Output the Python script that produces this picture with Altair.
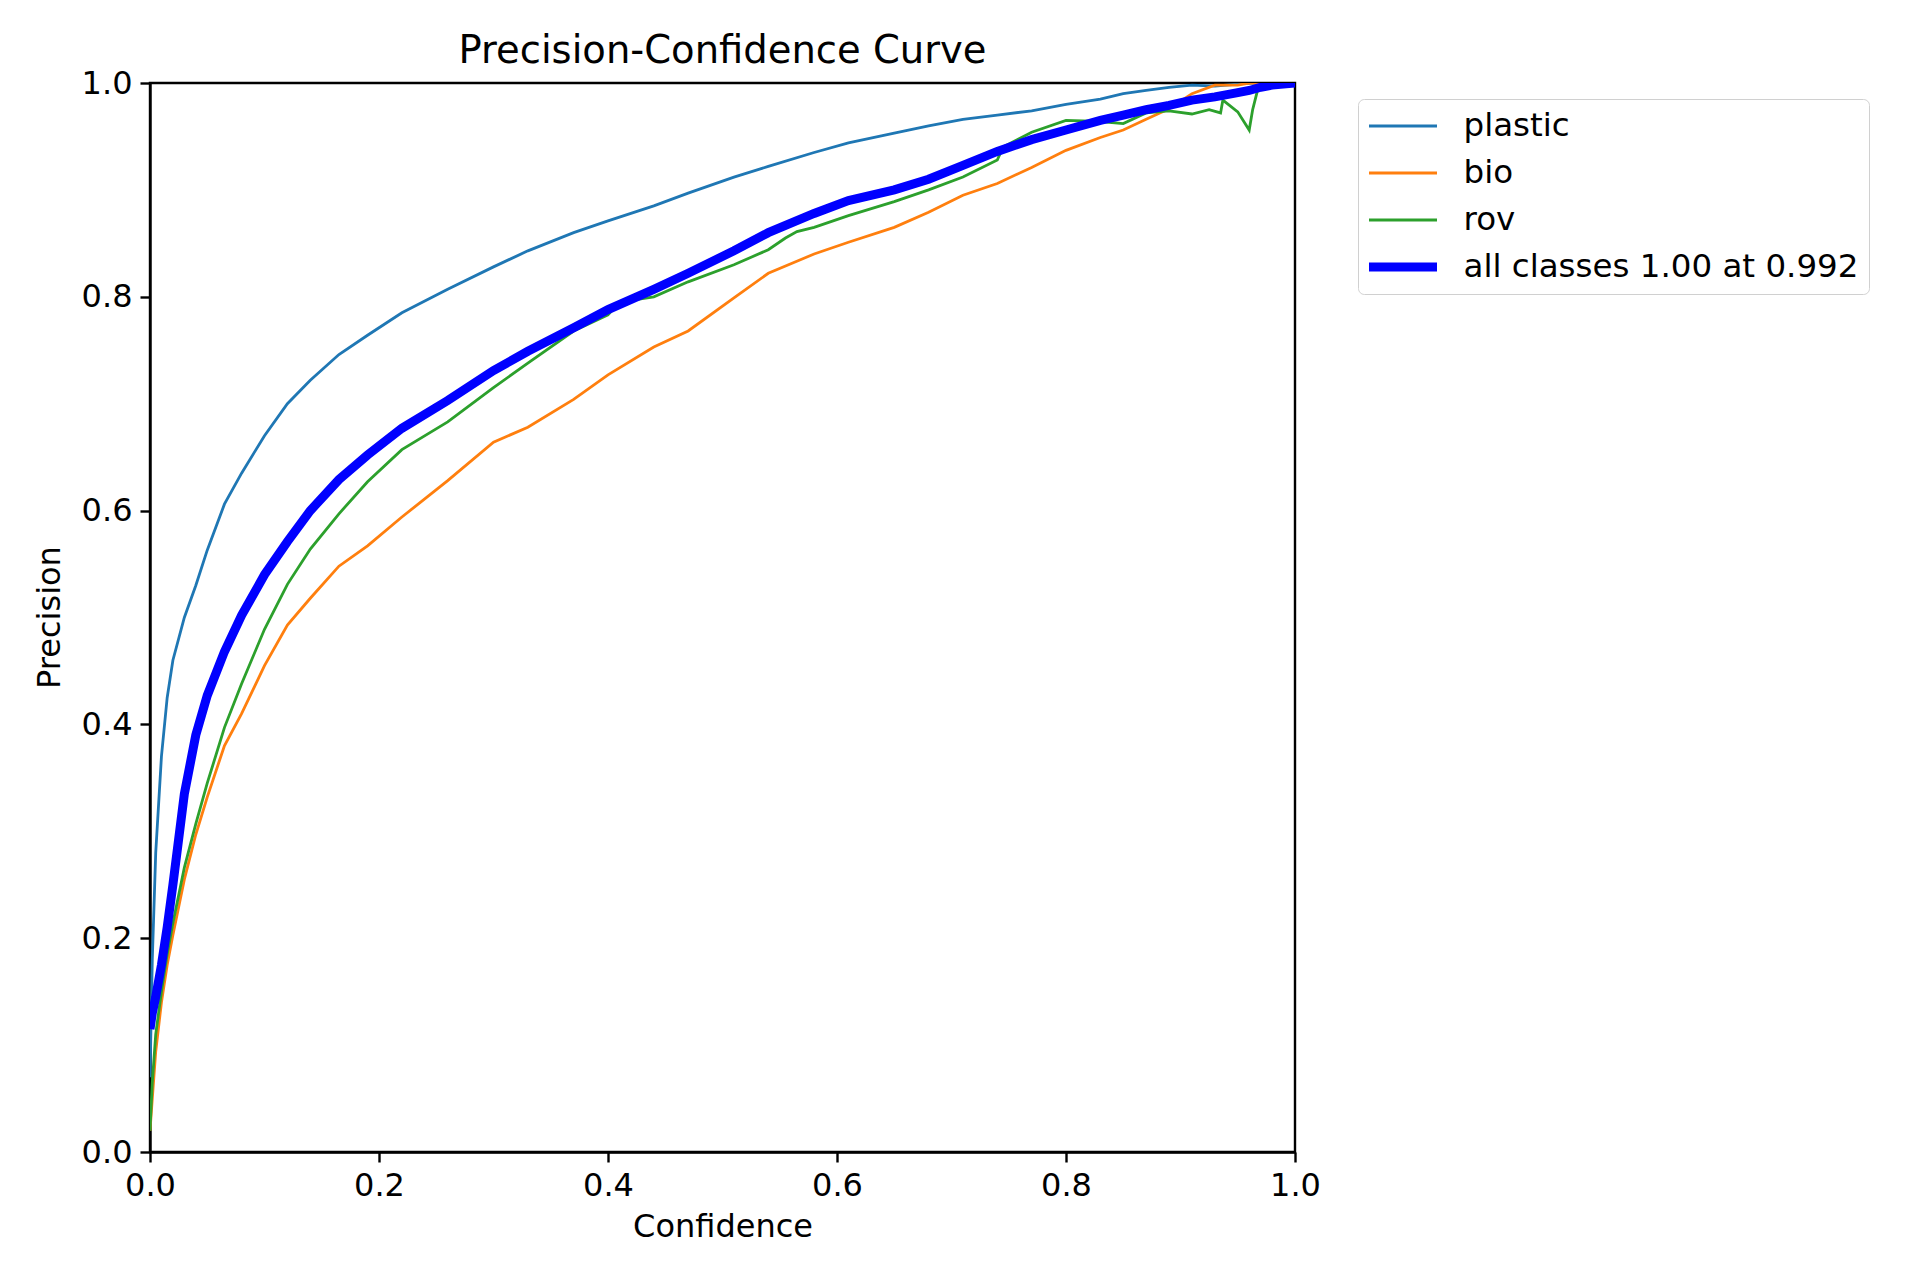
import altair as alt
import pandas as pd

names = ["plastic", "bio", "rov", "all classes 1.00 at 0.992"]
colors = ["#1f77b4", "#ff7f0e", "#2ca02c", "#0000ff"]
widths = [2.8, 2.8, 2.8, 9]

conf_grid = [0, 0.002, 0.005, 0.01, 0.015, 0.02, 0.03, 0.04, 0.05, 0.065,
             0.08, 0.1, 0.12, 0.14, 0.165, 0.19, 0.22, 0.26, 0.3, 0.33,
             0.37, 0.4, 0.44, 0.47, 0.51, 0.54, 0.58, 0.61, 0.65, 0.68,
             0.71, 0.74, 0.77, 0.8, 0.83, 0.85, 0.87, 0.89, 0.91, 0.93,
             0.95, 0.96, 0.97, 0.98, 1.0]

plastic = [0.07, 0.18, 0.28, 0.37, 0.425, 0.46, 0.5, 0.53, 0.563, 0.606,
           0.635, 0.67, 0.70, 0.722, 0.746, 0.764, 0.785, 0.807, 0.828, 0.843,
           0.86, 0.871, 0.885, 0.897, 0.912, 0.922, 0.935, 0.944, 0.953, 0.96,
           0.966, 0.97, 0.974, 0.98, 0.985, 0.99, 0.993, 0.996, 0.998, 0.997,
           0.999, 1.0, 1.0, 1.0, 1.0]

bio = [0.02, 0.05, 0.094, 0.14, 0.175, 0.203, 0.255, 0.297, 0.332, 0.38,
       0.41, 0.455, 0.493, 0.518, 0.548, 0.567, 0.594, 0.628, 0.664, 0.678,
       0.704, 0.727, 0.753, 0.768, 0.799, 0.822, 0.84, 0.851, 0.865, 0.879,
       0.895, 0.906, 0.921, 0.937, 0.949, 0.956, 0.966, 0.976, 0.99, 0.998,
       0.998, 1.0, 1.0, 1.0, 1.0]

all_classes = [0.115, 0.13, 0.145, 0.175, 0.21, 0.25, 0.335, 0.39, 0.427, 0.468,
               0.502, 0.54, 0.571, 0.6, 0.629, 0.652, 0.677, 0.703, 0.731, 0.749,
               0.771, 0.788, 0.807, 0.822, 0.843, 0.86, 0.878, 0.89, 0.9, 0.91,
               0.923, 0.936, 0.947, 0.956, 0.965, 0.97, 0.975, 0.979, 0.984, 0.987,
               0.991, 0.993, 0.996, 0.998, 1.0]

rov_conf = [0, 0.002, 0.005, 0.01, 0.015, 0.02, 0.03, 0.04, 0.05, 0.065,
            0.08, 0.1, 0.12, 0.14, 0.165, 0.19, 0.22, 0.26, 0.3, 0.33,
            0.37, 0.4, 0.41, 0.44, 0.47, 0.51, 0.54, 0.555, 0.565, 0.58,
            0.61, 0.65, 0.68, 0.71, 0.74, 0.745, 0.77, 0.8, 0.83, 0.85,
            0.87, 0.89, 0.91, 0.925, 0.935, 0.937, 0.95, 0.96, 0.963, 0.967,
            0.975, 1.0]
rov = [0.02, 0.065, 0.11, 0.15, 0.185, 0.214, 0.266, 0.307, 0.345, 0.397,
       0.438, 0.489, 0.531, 0.564, 0.597, 0.627, 0.657, 0.683, 0.715, 0.738,
       0.768, 0.783, 0.795, 0.8, 0.814, 0.83, 0.844, 0.855, 0.861, 0.865,
       0.876, 0.889, 0.9, 0.912, 0.928, 0.94, 0.954, 0.965, 0.964, 0.962,
       0.972, 0.974, 0.971, 0.975, 0.972, 0.984, 0.973, 0.956, 0.975, 0.992,
       1.0, 1.0]

ticks = [0.0, 0.2, 0.4, 0.6, 0.8, 1.0]

rows = []
for c, p in zip(conf_grid, plastic):
    rows.append({"series": names[0], "conf": c, "prec": p})
for c, p in zip(conf_grid, bio):
    rows.append({"series": names[1], "conf": c, "prec": p})
for c, p in zip(rov_conf, rov):
    rows.append({"series": names[2], "conf": c, "prec": p})
for c, p in zip(conf_grid, all_classes):
    rows.append({"series": names[3], "conf": c, "prec": p})
df = pd.DataFrame(rows)

FONT = "DejaVu Sans"

leg = dict(
    title=None, orient="none", legendX=1208, legendY=16,
    symbolType="stroke", symbolSize=4624, labelFontSize=32.5, labelFont=FONT,
    labelColor="black", padding=10, strokeColor="#d0d0d0", fillColor="white",
    cornerRadius=6, clipHeight=34, rowPadding=13, symbolOffset=-3.5,
    labelOffset=22, labelLimit=700,
)

chart = alt.Chart(df).mark_line(clip=True, interpolate="linear").encode(
    x=alt.X("conf:Q", title="Confidence",
            scale=alt.Scale(domain=[0, 1], nice=False, zero=False),
            axis=alt.Axis(values=ticks, format=".1f", labelFlush=False,
                          labelOverlap=False, titleY=74, titleBaseline="middle")),
    y=alt.Y("prec:Q", title="Precision",
            scale=alt.Scale(domain=[0, 1], nice=False, zero=False),
            axis=alt.Axis(values=ticks, format=".1f", labelFlush=False,
                          labelOverlap=False, titleX=-101, titleY=534,
                          titleBaseline="middle", titleAngle=270, titleAlign="center")),
    color=alt.Color("series:N", sort=names,
                    scale=alt.Scale(domain=names, range=colors),
                    legend=alt.Legend(**leg)),
    strokeWidth=alt.StrokeWidth("series:N", sort=names,
                                scale=alt.Scale(type="ordinal", domain=names, range=widths),
                                legend=alt.Legend(**leg)),
    order=alt.Order("conf:Q"),
).properties(
    width=1145, height=1069,
    title=alt.TitleParams("Precision-Confidence Curve", font=FONT, fontSize=38.5,
                          fontWeight="normal", color="black", anchor="middle",
                          baseline="alphabetic", offset=17, dy=51),
    autosize=alt.AutoSizeParams(type="none"),
    padding={"left": 142, "top": 75, "right": 617, "bottom": 120},
).configure(
    font=FONT,
).configure_view(
    stroke="black", strokeWidth=2.4,
).configure_axis(
    domainColor="black", domainWidth=2.4, tickColor="black", tickWidth=2.4,
    tickSize=10, labelFontSize=32, labelColor="black", labelFont=FONT,
    labelPadding=8, titleFontSize=32, titleColor="black", titleFont=FONT,
    titleFontWeight="normal", grid=False,
)

chart.save("out.html", embed_options={"renderer": "svg", "actions": False})
